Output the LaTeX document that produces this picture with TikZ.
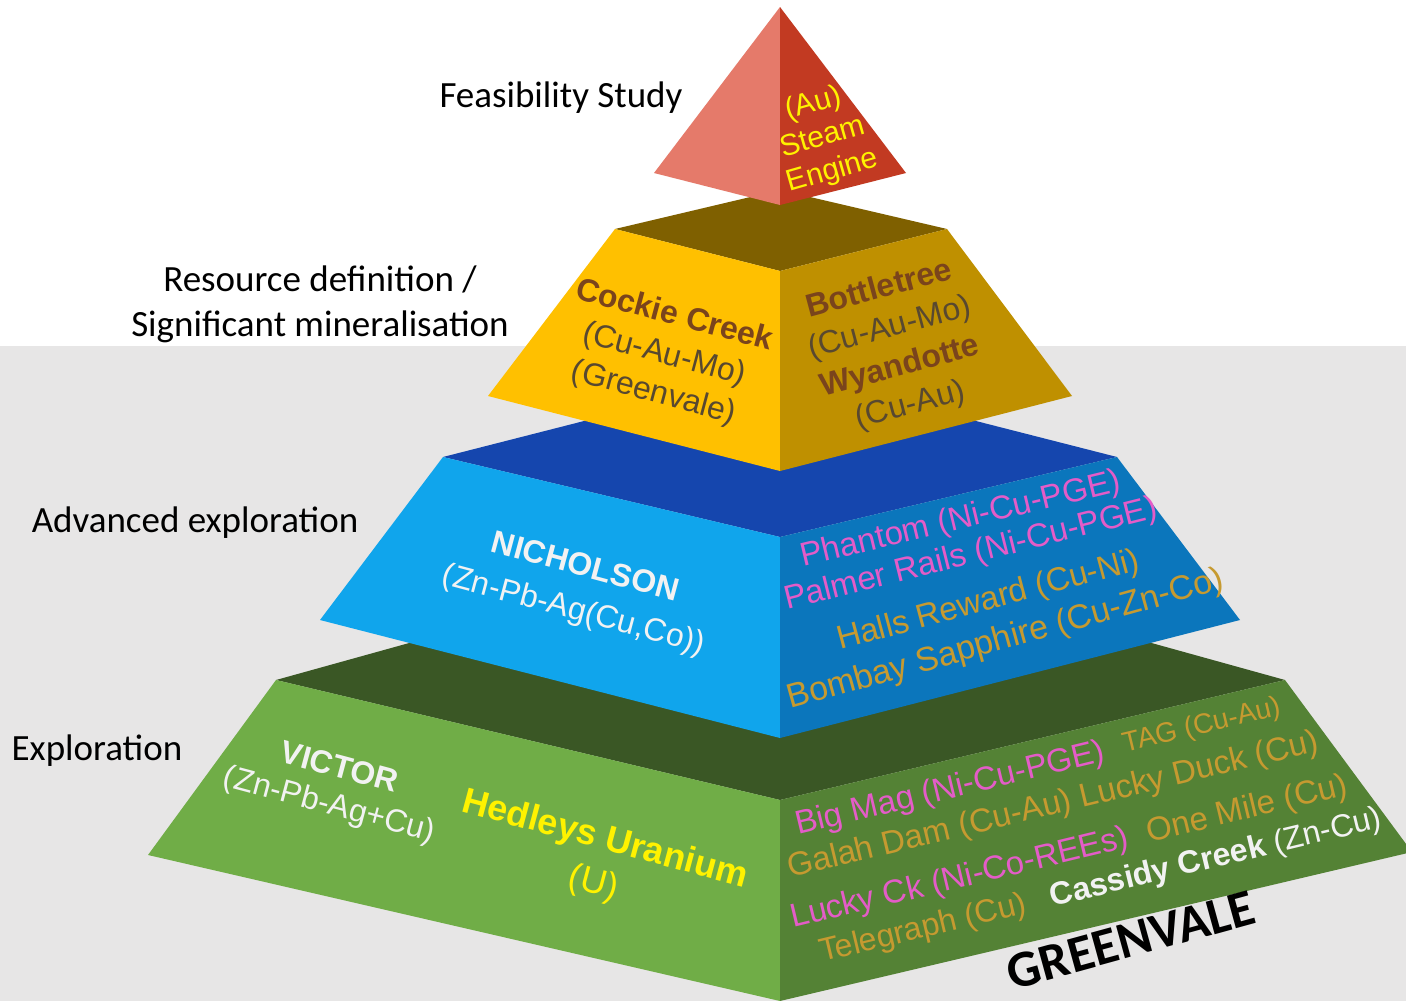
\documentclass[tikz,border=0pt]{standalone}
\usepackage{fontspec}
\setmainfont{Liberation Sans}
\newfontfamily\calibri{Carlito}

\definecolor{bggray}{RGB}{231,230,230}
\definecolor{redleft}{RGB}{229,122,106}
\definecolor{redright}{RGB}{194,58,34}
\definecolor{goldtop}{RGB}{127,96,0}
\definecolor{goldleft}{RGB}{255,192,0}
\definecolor{goldright}{RGB}{191,144,0}
\definecolor{bluetop}{RGB}{21,70,174}
\definecolor{blueleft}{RGB}{16,165,236}
\definecolor{blueright}{RGB}{11,118,188}
\definecolor{greentop}{RGB}{58,87,37}
\definecolor{greenleft}{RGB}{112,173,71}
\definecolor{greenright}{RGB}{84,130,53}
\definecolor{pinktext}{RGB}{228,92,200}
\definecolor{ochretext}{RGB}{198,154,48}
\definecolor{brownbold}{RGB}{122,68,28}
\definecolor{brownplain}{RGB}{88,72,48}
\definecolor{paletext}{RGB}{242,242,242}

\begin{document}
\begin{tikzpicture}[
    x=1pt, y=-1pt,
    stage/.style={font=\calibri\fontsize{37}{45}\selectfont, align=center, text=black},
    lface/.style={rotate=-15, align=center, inner sep=0pt},
    rface/.style={rotate=15, align=center, inner sep=0pt},
    listline/.style={anchor=base west, inner sep=0pt, font=\fontsize{33}{38}\selectfont}
]
    \useasboundingbox (0,0) rectangle (1406,1001);
    \clip (0,0) rectangle (1406,1001);
    \fill[white] (0,0) rectangle (1406,346);
    \fill[bggray] (0,346) rectangle (1406,1001);

    % exploration tier
    \fill[greentop] (276,680) -- (780,540) -- (1285,680) -- (780,800) -- cycle;
    \fill[greenleft] (276,680) -- (780,800) -- (780,1001) -- (148,855) -- cycle;
    \fill[greenright] (780,800) -- (1285,680) -- (1412,852) -- (780,1001) -- cycle;

    % advanced exploration tier
    \fill[bluetop] (443,457) -- (780,371) -- (1117,457) -- (780,537) -- cycle;
    \fill[blueleft] (443,457) -- (780,537) -- (780,738) -- (320,620) -- cycle;
    \fill[blueright] (780,537) -- (1117,457) -- (1240,620) -- (780,738) -- cycle;

    % resource tier
    \fill[goldtop] (615,229) -- (780,190) -- (947,229) -- (780,271) -- cycle;
    \fill[goldleft] (615,229) -- (780,271) -- (780,471) -- (488,396) -- cycle;
    \fill[goldright] (780,271) -- (947,229) -- (1072,396) -- (780,471) -- cycle;

    % feasibility tip
    \fill[redleft] (780,7) -- (780,205) -- (654,173) -- cycle;
    \fill[redright] (780,7) -- (906,173) -- (780,205) -- cycle;

    % stage labels
    \node[stage] (feasibility) at (561,98) {Feasibility Study};
    \node[stage] (resource) at (320,304) {Resource definition /\\Significant mineralisation};
    \node[stage] (advanced) at (195,523) {Advanced exploration};
    \node[stage] (exploration) at (97,751) {Exploration};

    % face texts
    \node[rface, rotate=1, text=yellow, font=\fontsize{30}{35}\selectfont] (steam) at (823,138) {(Au)\\Steam\\Engine};
    \node[lface, font=\fontsize{32}{40}\selectfont, text=brownplain] (cockie) at (664,355)
        {\textcolor{brownbold}{\textbf{Cockie Creek}}\\(Cu-Au-Mo)\\(Greenvale)};
    \node[rface, font=\fontsize{32}{40}\selectfont, text=brownplain] (bottletree) at (895,348)
        {\textcolor{brownbold}{\textbf{Bottletree}}\\(Cu-Au-Mo)\\\textcolor{brownbold}{\textbf{Wyandotte}}\\(Cu-Au)};
    \node[lface, font=\fontsize{32}{44}\selectfont, text=paletext] (nicholson) at (579,590)
        {\textbf{NICHOLSON}\\(Zn-Pb-Ag(Cu,Co))};
    \node[listline, rotate=13.5, text=pinktext] (phantom) at (803,567) {Phantom (Ni-Cu-PGE)};
    \node[listline, rotate=14, text=pinktext] (palmer) at (787,610) {Palmer Rails (Ni-Cu-PGE)};
    \node[listline, rotate=15, text=ochretext] (halls) at (840,650) {Halls Reward (Cu-Ni)};
    \node[listline, rotate=15.5, text=ochretext, font=\fontsize{34}{38}\selectfont] (bombay) at (790,709) {Bombay Sapphire (Cu-Zn-Co)};
    \node[lface, font=\fontsize{32}{38}\selectfont, text=paletext] (victor) at (334,788)
        {\textbf{VICTOR}\\(Zn-Pb-Ag+Cu)};
    \node[lface, font=\fontsize{36}{45}\selectfont, text=yellow] (hedleys) at (599,862)
        {\textbf{Hedleys Uranium}\\(U)};
    \node[listline, rotate=13.5, text=pinktext] (bigmag) at (798,835)
        {Big Mag (Ni-Cu-PGE)\hspace{0.6em}\textcolor{ochretext}{\raisebox{4pt}{\fontsize{28}{30}\selectfont TAG (Cu-Au)}}};
    \node[listline, rotate=13.5, text=ochretext] (galah) at (790,878) {Galah Dam (Cu-Au) Lucky Duck (Cu)};
    \node[listline, rotate=13.5, text=pinktext] (luckyck) at (793,928)
        {Lucky Ck (Ni-Co-REEs)\hspace{0.6em}\textcolor{ochretext}{One Mile (Cu)}};
    \node[listline, rotate=13.5, text=ochretext, font=\fontsize{32}{38}\selectfont] (telegraph) at (822,962)
        {Telegraph (Cu)\hspace{0.8em}\textcolor{paletext}{\textbf{Cassidy Creek} (Zn-Cu)}};
    \node[rotate=15.4, font=\calibri\bfseries\fontsize{52}{60}\selectfont] (greenvale) at (1131,940) {GREENVALE};
\end{tikzpicture}
\end{document}
